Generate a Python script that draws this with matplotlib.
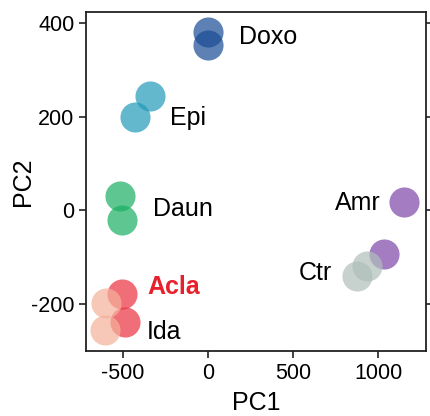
import matplotlib
matplotlib.use("Agg")
import matplotlib.pyplot as plt

plt.rcParams['font.family'] = ['Liberation Sans', 'DejaVu Sans']
plt.rcParams['axes.unicode_minus'] = False

groups = ["Doxo", "Epi", "Daun", "Acla", "Ida", "Amr", "Ctr"]
pc1 = {
    "Doxo": [0, 0],
    "Epi": [-340, -430],
    "Daun": [-515, -505],
    "Acla": [-505, -490],
    "Ida": [-600, -605],
    "Amr": [1150, 1035],
    "Ctr": [935, 876],
}
pc2 = {
    "Doxo": [380, 353],
    "Epi": [243, 200],
    "Daun": [30, -20],
    "Acla": [-178, -238],
    "Ida": [-198, -255],
    "Amr": [17, -92],
    "Ctr": [-119, -140],
}
colors = {
    "Doxo": "#194c94",
    "Epi": "#229bb8",
    "Daun": "#1ab062",
    "Acla": "#ea303e",
    "Ida": "#f5b19b",
    "Amr": "#7e45a9",
    "Ctr": "#b0bfbb",
}
label_pos = {
    "Doxo": (182, 370, "left"),
    "Epi": (-223, 198, "left"),
    "Daun": (-323, 2, "left"),
    "Acla": (-359, -164, "left"),
    "Ida": (-359, -260, "left"),
    "Amr": (1017, 15, "right"),
    "Ctr": (729, -134, "right"),
}

fig = plt.figure(figsize=(4.3, 4.16), dpi=100)
ax = fig.add_axes([0.201, 0.156, 0.790, 0.815])

for g in groups:
    ax.scatter(pc1[g], pc2[g], s=470, color=colors[g], alpha=0.7, linewidths=0, zorder=2)

for g in groups:
    x, y, ha = label_pos[g]
    if g == "Acla":
        ax.text(x, y, g, fontsize=18, ha=ha, va="center", color="#e8202c", fontweight="bold")
    else:
        ax.text(x, y, g, fontsize=18, ha=ha, va="center", color="black")

ax.set_xlim(-715, 1282)
ax.set_ylim(-300, 423)
ax.set_xticks([-500, 0, 500, 1000])
ax.set_yticks([-200, 0, 200, 400])
ax.tick_params(axis='both', labelsize=15.5, length=5, width=1.2, direction='out', color='#222222')
ax.tick_params(axis='y', right=True)
for sp in ax.spines.values():
    sp.set_linewidth(1.3)
    sp.set_color('#222222')
ax.set_xlabel("PC1", fontsize=18)
ax.set_ylabel("PC2", fontsize=18)
ax.yaxis.set_label_coords(-0.187, 0.5)
ax.xaxis.set_label_coords(0.5, -0.153)
ax.xaxis.label.set_va("center")
ax.yaxis.label.set_va("center")

fig.savefig("out.png", dpi=100)
